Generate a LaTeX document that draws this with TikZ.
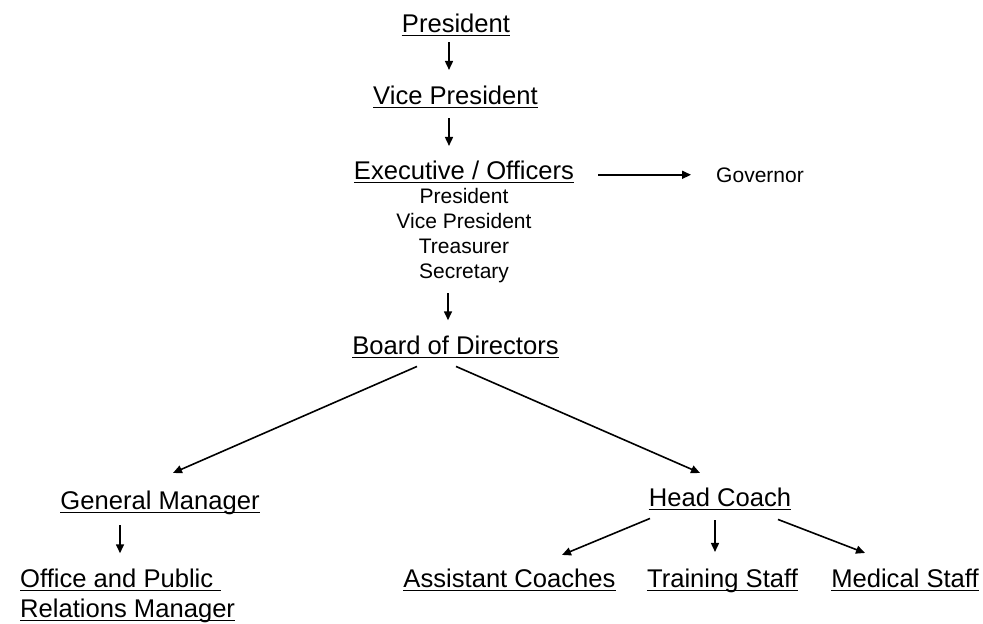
\documentclass[tikz,border=0pt]{standalone}
\usepackage{fontspec}
\setmainfont{Liberation Sans}
\usepackage{xcolor}
\usepackage{tikz}
\usetikzlibrary{arrows.meta,positioning}
\definecolor{ink}{HTML}{000000}
\tikzset{
  titlebox/.style={inner sep=0pt, anchor=base, text=ink, font=\fontsize{25.6}{30}\selectfont},
  subbox/.style={inner sep=0pt, text=ink, align=center, font=\fontsize{21}{25}\selectfont},
  arr/.style={-{Triangle[length=9pt,width=8pt]}, line width=1.6pt, draw=ink},
  uline/.style={line width=1.5pt, draw=ink}
}
\begin{document}
\begin{tikzpicture}[x=1pt, y=1pt]
  \useasboundingbox[fill=white] (0,0) rectangle (983,-624);

  \node[titlebox] (pres) at (456,-32) {President};
  \node[titlebox] (vp) at (455.5,-104) {Vice President};
  \node[titlebox] (exec) at (464,-179) {Executive / Officers};
  \node[subbox, anchor=north] (officers) at (464,-187.7) {President\\Vice President\\Treasurer\\Secretary};
  \node[subbox, anchor=base] (gov) at (760,-182) {Governor};
  \node[titlebox] (board) at (455.5,-354) {Board of Directors};

  \node[titlebox] (gm) at (160,-509) {General Manager};
  \node[titlebox, anchor=base west] (opr) at (20,-587) {Office and Public\ \mbox{}};
  \node[titlebox, anchor=base west] (relmgr) at (20,-617) {Relations Manager};

  \node[titlebox] (hc) at (720,-506) {Head Coach};
  \node[titlebox] (asst) at (509.5,-587) {Assistant Coaches};
  \node[titlebox] (train) at (722.5,-587) {Training Staff};
  \node[titlebox] (med) at (905,-587) {Medical Staff};

  \foreach \n in {pres,vp,exec,board,gm,opr,relmgr,hc,asst,train,med}
    \draw[uline] ([yshift=-3.5pt]\n.base west) -- ([yshift=-3.5pt]\n.base east);

  \draw[arr, shorten <=10pt, shorten >=15.3pt] ([xshift=-7pt]pres.south) -- ([xshift=-7pt]pres.south |- vp.north);
  \draw[arr, shorten <=14pt, shorten >=14.3pt] ([xshift=-6.5pt]vp.south) -- ([xshift=-6.5pt]vp.south |- exec.north);
  \draw[arr, shorten <=24pt, shorten >=25pt] (exec.east |- gov.west) -- (gov.west);
  \draw[arr, shorten <=10.6pt, shorten >=15pt] ([xshift=-7.5pt]board.north |- officers.south) -- ([xshift=-7.5pt]board.north);

  \draw[arr] ([shift={(-38.5,-12)}]board.south) -- ([shift={(13,17.3)}]gm.north);
  \draw[arr] ([shift={(0.5,-12)}]board.south) -- ([shift={(-20,14.3)}]hc.north);
  \draw[arr, shorten <=10.6pt, shorten >=15pt] ([xshift=-40pt]gm.south) -- ([xshift=-40pt]gm.south |- opr.north);

  \draw[arr] ([shift={(-70,-12)}]hc.south) -- ([shift={(52.5,13.3)}]asst.north);
  \draw[arr, shorten <=14pt, shorten >=16.3pt] ([xshift=-5pt]hc.south) -- ([xshift=-5pt]hc.south |- train.north);
  \draw[arr] ([shift={(58,-13)}]hc.south) -- ([shift={(-40,15.3)}]med.north);
\end{tikzpicture}
\end{document}
